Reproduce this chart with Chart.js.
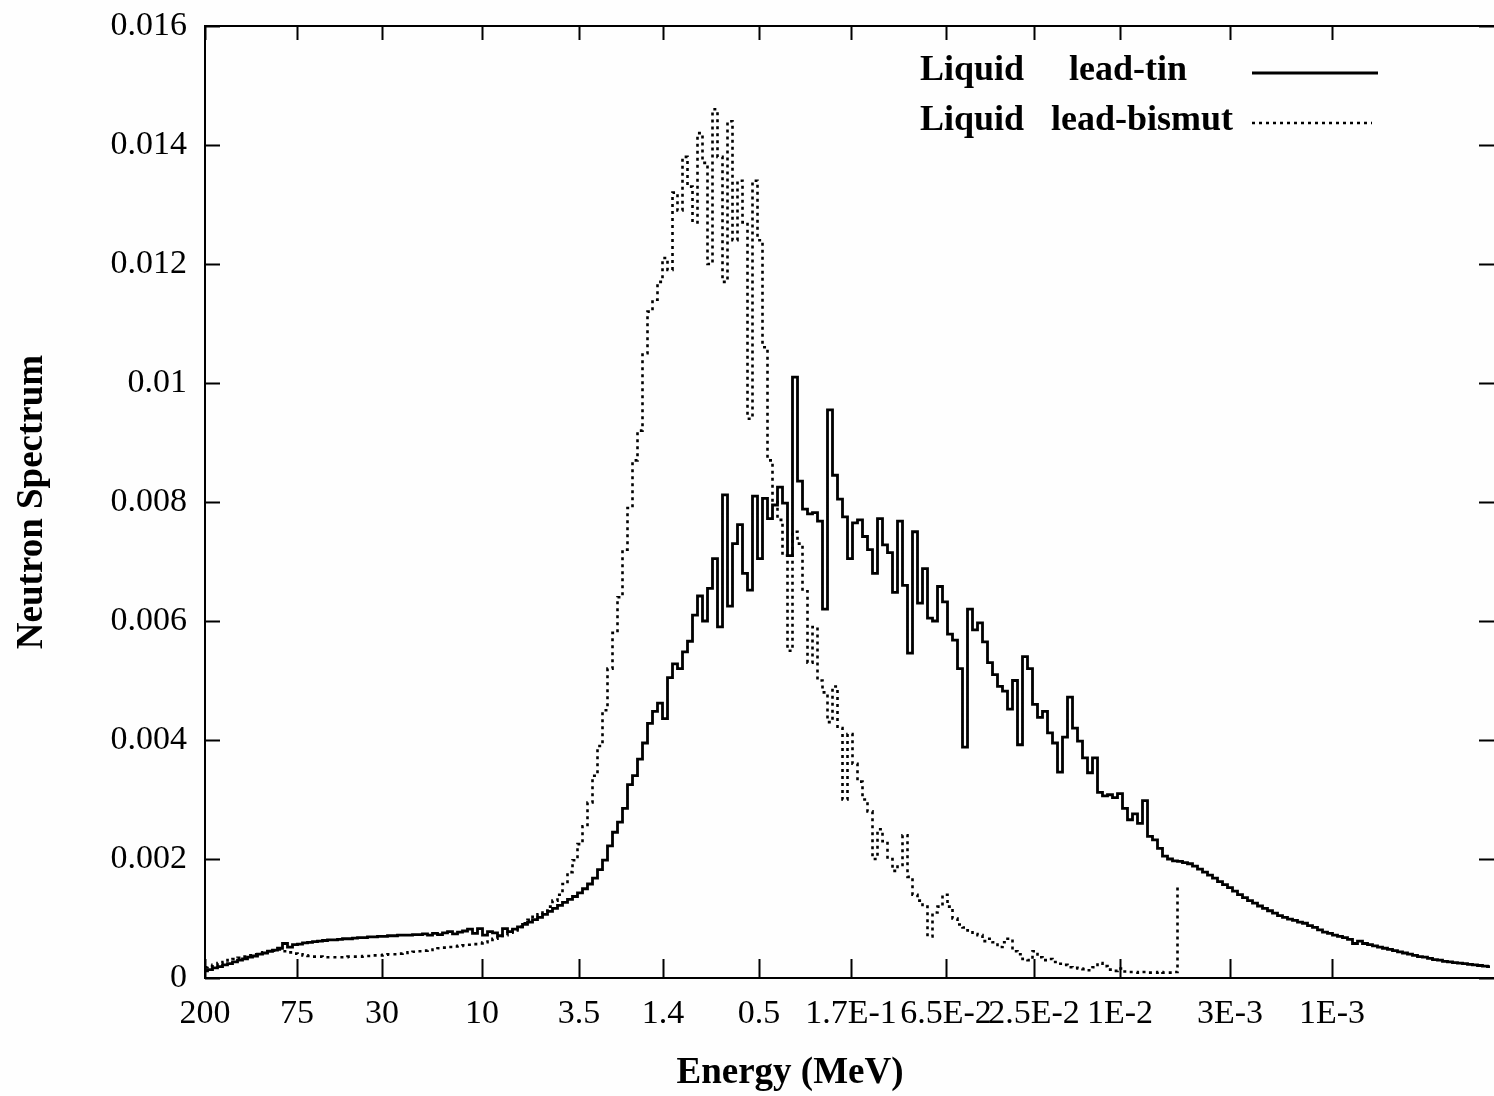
<!DOCTYPE html>
<html>
<head>
<meta charset="utf-8">
<title>Neutron Spectrum</title>
<script src="https://cdn.jsdelivr.net/npm/chart.js@4.4.0/dist/chart.umd.min.js"></script>
<style>
  html, body { margin: 0; padding: 0; background: #fefefe; }
  #wrap { width: 1494px; height: 1096px; position: relative; }
</style>
</head>
<body>
<div id="wrap"><canvas id="spectrum"></canvas></div>
<script>
// energy group index where each labelled tick sits, and its label (MeV)
const energyTickGroups = [0, 18.4, 35.4, 55.4, 74.8, 91.6, 110.8, 129.2, 148.2, 165.8, 183, 205, 225.4];
const energyTickLabels = ['200', '75', '30', '10', '3.5', '1.4', '0.5', '1.7E-1', '6.5E-2', '2.5E-2', '1E-2', '3E-3', '1E-3'];
const lastGroup = 257.8;

// Liquid lead-tin, one value per group
const leadTin = [
  0.00012, 0.00014, 0.00017, 0.00019, 0.00022, 0.00024, 0.00027, 0.0003, 0.00032, 0.00035,
  0.00037, 0.0004, 0.00042, 0.00045, 0.00047, 0.0005, 0.00058, 0.00052, 0.00056, 0.00057,
  0.00059, 0.0006, 0.00061, 0.00062, 0.00063, 0.00064, 0.00064, 0.00065, 0.00066, 0.00066,
  0.00067, 0.00068, 0.00068, 0.00069, 0.00069, 0.0007, 0.0007, 0.00071, 0.00071, 0.00072,
  0.00072, 0.00072, 0.00073, 0.00073, 0.00074, 0.00072, 0.00075, 0.00073, 0.00076, 0.00078,
  0.00074, 0.00077, 0.00079, 0.00082, 0.00075, 0.00083, 0.00072, 0.00078, 0.00076, 0.00071,
  0.00083, 0.00078, 0.00082, 0.00086, 0.0009, 0.00094, 0.00098, 0.00102, 0.00107, 0.00112,
  0.00117, 0.00122, 0.00127, 0.00132, 0.00137, 0.00143, 0.0015, 0.00158, 0.00168, 0.00182,
  0.00198, 0.00222, 0.00245, 0.00262, 0.00285, 0.00325, 0.0034, 0.00368, 0.00395, 0.00428,
  0.00448, 0.00462, 0.00436, 0.00505, 0.00528, 0.0052, 0.00548, 0.00566, 0.0061, 0.00642,
  0.006, 0.00655, 0.00705, 0.0059, 0.00812, 0.00625, 0.0073, 0.00762, 0.0068, 0.00652,
  0.0081, 0.00705, 0.00806, 0.00772, 0.00795, 0.00825, 0.00798, 0.0071, 0.0101, 0.00835,
  0.00788, 0.0078, 0.00782, 0.00768, 0.0062, 0.00955, 0.00845, 0.00805, 0.00775, 0.00705,
  0.00765, 0.0077, 0.00742, 0.0072, 0.0068, 0.00772, 0.00728, 0.00715, 0.00648, 0.00768,
  0.0066, 0.00546, 0.0075, 0.0063, 0.00688, 0.00605, 0.006, 0.00658, 0.00632, 0.00578,
  0.00568, 0.0052, 0.00388, 0.0062, 0.00585, 0.00597, 0.00565, 0.0053, 0.0051, 0.0049,
  0.00482, 0.00452, 0.005, 0.00392, 0.0054, 0.0052, 0.0046, 0.00438, 0.00448, 0.00412,
  0.00395, 0.00346, 0.00405, 0.00472, 0.0042, 0.00398, 0.0037, 0.00345, 0.0037, 0.00312,
  0.00306, 0.00308, 0.00303, 0.0031, 0.00285, 0.00266, 0.00276, 0.0026, 0.00298, 0.00238,
  0.00232, 0.00218, 0.00205, 0.002, 0.00197, 0.00196, 0.00194, 0.00192, 0.00188, 0.00183,
  0.00178, 0.00173, 0.00168, 0.00162, 0.00157, 0.00152, 0.00146, 0.0014, 0.00135, 0.0013,
  0.00126, 0.00121, 0.00117, 0.00113, 0.00109, 0.00105, 0.00102, 0.00099, 0.00097, 0.00094,
  0.00092, 0.00088, 0.00085, 0.00081, 0.00077, 0.00075, 0.00072, 0.0007, 0.00068, 0.00065,
  0.00058, 0.00062, 0.00058, 0.00056, 0.00054, 0.00052, 0.0005, 0.00048, 0.00046, 0.00044,
  0.00042, 0.0004, 0.00038, 0.00036, 0.00035, 0.00033, 0.00031, 0.0003, 0.00028, 0.00027,
  0.00026, 0.00025, 0.00024, 0.00023, 0.00022, 0.00021, 0.0002, 0.00019
];

// Liquid lead-bismut, stops near 5E-3 MeV
const leadBismut = [
  0.00018, 0.0002, 0.00022, 0.00025, 0.00027, 0.0003, 0.00032, 0.00034, 0.00036, 0.00038,
  0.0004, 0.00042, 0.00043, 0.00045, 0.00046, 0.00048, 0.00045, 0.00043, 0.00041, 0.0004,
  0.00038, 0.00037, 0.00036, 0.00036, 0.00035, 0.00035, 0.00035, 0.00035, 0.00035, 0.00036,
  0.00036, 0.00036, 0.00037, 0.00037, 0.00038, 0.00038, 0.00039, 0.0004, 0.0004, 0.00041,
  0.00042, 0.00043, 0.00044, 0.00045, 0.00046, 0.00047, 0.00048, 0.0005, 0.00051, 0.00052,
  0.00053, 0.00054, 0.00055, 0.00056, 0.00057, 0.00058, 0.0006, 0.00064, 0.00066, 0.00068,
  0.00072, 0.00076, 0.0008, 0.00086, 0.00092, 0.00098, 0.00103, 0.00107, 0.00113, 0.0012,
  0.0013, 0.0014, 0.00158, 0.00178, 0.00198, 0.00225, 0.00255, 0.00295, 0.0034, 0.0039,
  0.0045, 0.0052, 0.0058, 0.0064, 0.0072, 0.0079, 0.0087, 0.0092, 0.0105, 0.0112,
  0.0114, 0.0117, 0.0121, 0.0119, 0.0132, 0.0129, 0.0138, 0.0133, 0.0127, 0.0142,
  0.0137, 0.012, 0.0146, 0.0138, 0.0117, 0.0144, 0.0124, 0.0134, 0.0127, 0.0094,
  0.0134, 0.0124, 0.0106, 0.0087, 0.008, 0.0077, 0.0071, 0.0055, 0.0075, 0.0073,
  0.0065, 0.0053, 0.0059, 0.005, 0.0048, 0.0043, 0.0049, 0.0042, 0.003, 0.0041,
  0.0036, 0.0033, 0.003, 0.0028, 0.002, 0.0025, 0.0023, 0.002, 0.0018, 0.0019,
  0.0024, 0.0017, 0.0014, 0.0013, 0.0012, 0.0007, 0.0011, 0.0012, 0.0014, 0.0012,
  0.001, 0.0009, 0.00085, 0.0008, 0.00074, 0.00072, 0.00062, 0.00066, 0.0006, 0.00052,
  0.0006, 0.00066, 0.00045, 0.0004, 0.00032, 0.0003, 0.00045, 0.00035, 0.0003, 0.00032,
  0.00027, 0.00024, 0.00022, 0.00018, 0.00017, 0.00016, 0.00015, 0.00013, 0.00018, 0.00025,
  0.0002, 0.00014, 0.00012, 0.00016, 0.00011, 0.0001, 0.0001, 0.00009, 0.0001, 0.00009,
  0.00009, 0.0001, 0.00009, 0.00009, 0.0001, 0.0015
];

const serif = '"Liberation Serif", "Times New Roman", serif';

// gnuplot style frame: left/top/bottom border and inward ticks on all sides
const frameTicks = {
  id: 'frameTicks',
  afterDatasetsDraw(chart) {
    const ctx = chart.ctx;
    const a = chart.chartArea;
    const xs = chart.scales.x, ys = chart.scales.y;
    ctx.save();
    ctx.strokeStyle = '#000';
    ctx.lineWidth = 2;
    ctx.beginPath();
    ctx.moveTo(a.right, a.top);
    ctx.lineTo(a.left, a.top);
    ctx.lineTo(a.left, a.bottom);
    ctx.lineTo(a.right, a.bottom);
    xs.ticks.forEach(t => {
      const px = Math.round(xs.getPixelForValue(t.value)) + 0.5;
      ctx.moveTo(px, a.bottom); ctx.lineTo(px, a.bottom - 19);
      ctx.moveTo(px, a.top); ctx.lineTo(px, a.top + 14);
    });
    ys.ticks.forEach(t => {
      const py = Math.round(ys.getPixelForValue(t.value)) + 0.5;
      ctx.moveTo(a.left, py); ctx.lineTo(a.left + 15, py);
      ctx.moveTo(a.right, py); ctx.lineTo(a.right - 15, py);
    });
    ctx.stroke();
    ctx.restore();
  }
};

// key drawn inside the plot: label text first, line sample after it
const gnuKey = {
  id: 'gnuKey',
  afterDraw(chart, args, opts) {
    const ctx = chart.ctx;
    ctx.save();
    ctx.font = 'bold 36px ' + serif;
    ctx.fillStyle = '#000';
    ctx.textBaseline = 'middle';
    chart.data.datasets.forEach((ds, i) => {
      const y = opts.top + i * opts.rowGap;
      ctx.fillText(ds.keyText, opts.textX, y);
      ctx.strokeStyle = ds.borderColor;
      ctx.lineWidth = ds.borderWidth;
      ctx.setLineDash(ds.borderDash || []);
      ctx.beginPath();
      ctx.moveTo(opts.lineFrom, y + 2);
      ctx.lineTo(opts.lineTo - (ds.borderDash ? 6 : 0), y + 2);
      ctx.stroke();
    });
    ctx.setLineDash([]);
    // x axis title
    ctx.font = 'bold 37px ' + serif;
    ctx.textAlign = 'center';
    ctx.fillText(opts.xTitle, opts.xTitleX, opts.xTitleY);
    ctx.restore();
  }
};

const paper = {
  id: 'paper',
  beforeDraw(chart) {
    const ctx = chart.ctx;
    ctx.save();
    ctx.fillStyle = '#fefefe';
    ctx.fillRect(0, 0, chart.width, chart.height);
    ctx.restore();
  }
};

const spectrumChart = new Chart(document.getElementById('spectrum'), {
  type: 'line',
  data: {
    datasets: [
      {
        label: 'Liquid lead-tin',
        keyText: 'Liquid     lead-tin',
        data: leadTin.map((v, i) => ({ x: i, y: v })),
        borderColor: '#000',
        borderWidth: 2.8,
        pointRadius: 0,
        stepped: 'middle',
        fill: false
      },
      {
        label: 'Liquid lead-bismut',
        keyText: 'Liquid   lead-bismut',
        data: leadBismut.map((v, i) => ({ x: i, y: v })),
        borderColor: '#000',
        borderWidth: 2.6,
        borderDash: [3, 4],
        pointRadius: 0,
        stepped: 'middle',
        fill: false
      }
    ]
  },
  options: {
    animation: false,
    responsive: true,
    maintainAspectRatio: false,
    layout: { padding: { top: 26, right: 0, bottom: 0, left: 0 } },
    plugins: {
      legend: { display: false },
      tooltip: { enabled: false },
      gnuKey: {
        textX: 920, top: 71, rowGap: 50, lineFrom: 1252, lineTo: 1378,
        xTitle: 'Energy (MeV)', xTitleX: 790, xTitleY: 1073
      }
    },
    scales: {
      x: {
        type: 'linear',
        min: 0,
        max: lastGroup,
        afterBuildTicks: s => { s.ticks = energyTickGroups.map(v => ({ value: v })); },
        afterFit: s => { s.height = 118; s.paddingLeft = 0; s.paddingRight = 0; },
        grid: { display: false, drawTicks: false },
        border: { display: false },
        ticks: {
          autoSkip: false,
          maxRotation: 0,
          minRotation: 0,
          padding: 16,
          color: '#000',
          font: { family: serif, size: 34 },
          callback: (v, i) => energyTickLabels[i]
        }
      },
      y: {
        type: 'linear',
        min: 0,
        max: 0.016,
        afterFit: s => { s.width = 205; s.paddingTop = 0; s.paddingBottom = 0; },
        grid: { display: false, drawTicks: false },
        border: { display: false },
        title: {
          display: true,
          text: 'Neutron Spectrum',
          color: '#000',
          font: { family: serif, size: 37, weight: 'bold' },
          padding: { top: 10, bottom: 0 }
        },
        ticks: {
          stepSize: 0.002,
          padding: 18,
          color: '#000',
          font: { family: serif, size: 34 },
          callback: v => String(+v.toFixed(3))
        }
      }
    }
  },
  plugins: [paper, frameTicks, gnuKey]
});
</script>
</body>
</html>
